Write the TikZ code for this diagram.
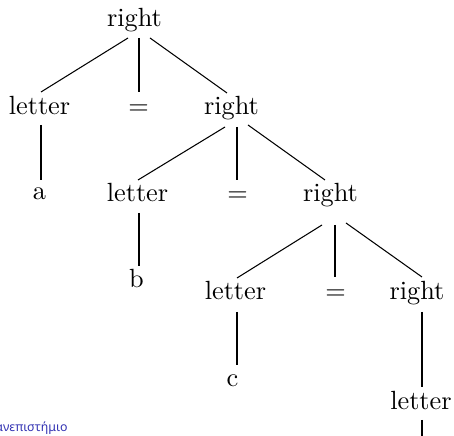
\documentclass[tikz,border=0pt]{standalone}
\usepackage{fontspec}
\newfontfamily\greekfont{Noto Sans}
\usetikzlibrary{calc}
\definecolor{beamerblue}{RGB}{51,51,179}
\begin{document}
\begin{tikzpicture}[x=0.38pt,y=-0.38pt,
  tn/.style={inner sep=0pt, anchor=base, font=\fontsize{10}{12}\selectfont},
  edge/.style={line width=0.4pt, black}]
\useasboundingbox (0,0) rectangle (454,436);
\node[tn] (r0) at (134.5,27) {right};
\node[tn] (l1) at (39.5,115) {letter};
\node[tn] (e1) at (138.5,115) {$=$};
\node[tn] (r1) at (231.5,115) {right};
\node[tn] (a) at (39.5,200) {a};
\node[tn] (l2) at (137.5,202) {letter};
\node[tn] (e2) at (237.5,202) {$=$};
\node[tn] (r2) at (330.5,202) {right};
\node[tn] (b) at (136.5,288) {b};
\node[tn] (l3) at (235.5,300) {letter};
\node[tn] (e3) at (335.5,300) {$=$};
\node[tn] (r3) at (417,300) {right};
\node[tn] (c) at (232.5,387) {c};
\node[tn] (l4) at (421,410) {letter};
\coordinate (l4end) at (422,436);
\node[anchor=base east, inner sep=0pt, text=beamerblue, font=\greekfont\fontsize{4.7}{5.5}\selectfont] (uni) at (68,431.5) {ανεπιστήμιο};
% edges
\draw[edge] ($(r0.base)+(-6.5,11)$) -- ($(l1.base)+(1.5,-23)$);
\draw[edge] ($(r0.base)+(4.5,11)$) -- ($(e1.base)+(0.5,-23)$);
\draw[edge] ($(r0.base)+(15.5,11)$) -- ($(r1.base)+(-4.5,-22)$);
\draw[edge] ($(l1.base)+(1.5,10)$) -- ($(a.base)+(1.5,-20)$);
\draw[edge] ($(r1.base)+(-6.5,12)$) -- ($(l2.base)+(0.5,-22)$);
\draw[edge] ($(r1.base)+(5.5,12)$) -- ($(e2.base)+(-0.5,-22)$);
\draw[edge] ($(r1.base)+(16.5,10)$) -- ($(r2.base)+(-5.5,-22)$);
\draw[edge] ($(l2.base)+(1.5,11)$) -- ($(b.base)+(2.5,-22)$);
\draw[edge] ($(r2.base)+(-8.5,23)$) -- ($(l3.base)+(1.5,-22)$);
\draw[edge] ($(r2.base)+(4.5,23)$) -- ($(e3.base)+(-0.5,-23)$);
\draw[edge] ($(r2.base)+(15.5,21)$) -- ($(r3.base)+(5,-23)$);
\draw[edge] ($(l3.base)+(1.5,12)$) -- ($(c.base)+(4.5,-22)$);
\draw[edge] ($(r3.base)+(5,12)$) -- ($(l4.base)+(1,-23)$);
\draw[edge] ($(l4.base)+(1,10)$) -- (l4end);
\end{tikzpicture}
\end{document}
